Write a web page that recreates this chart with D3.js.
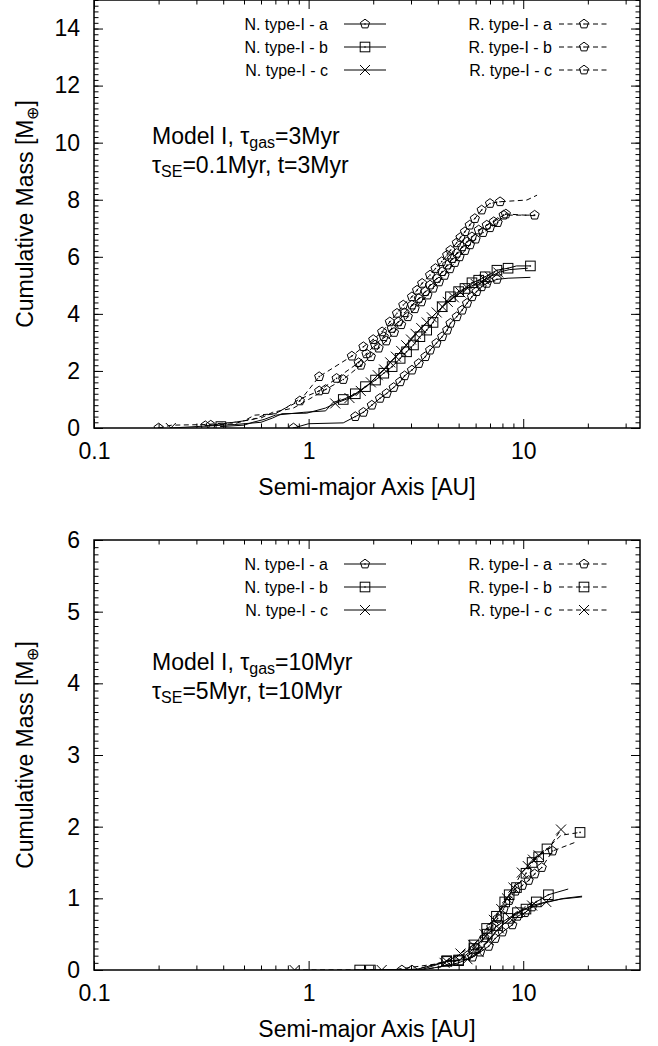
<!DOCTYPE html>
<html><head><meta charset="utf-8">
<script src="https://cdn.jsdelivr.net/npm/d3@7"></script>
<style>
body{margin:0;background:#fff}
svg text{font-family:"Liberation Sans",Arial,Helvetica,sans-serif;fill:#000}
</style>
</head><body>
<svg id="c" width="658" height="1046"></svg>
<script>
// ---------- labels / ticks ----------
const xMajorTicks = [0.1, 1, 10];
const xMajorLabels = ["0.1", "1", "10"];
const xMinorTicks = [0.2,0.3,0.4,0.5,0.6,0.7,0.8,0.9,2,3,4,5,6,7,8,9,20,30];
const topYTicks = [0,2,4,6,8,10,12,14];
const botYTicks = [0,1,2,3,4,5,6];
const xTitle = "Semi-major Axis [AU]";
const legendNames = ["N. type-I - a","N. type-I - b","N. type-I - c","R. type-I - a","R. type-I - b","R. type-I - c"];
const topNote = [["Model I, τ","gas","=3Myr"],["τ","SE","=0.1Myr, t=3Myr"]];
const botNote = [["Model I, τ","gas","=10Myr"],["τ","SE","=5Myr, t=10Myr"]];

// ---------- data: [semi-major axis AU, cumulative mass, marker shown 1/0] ----------
// top panel (tau_gas = 3 Myr)
const topNa = [[0.85,0,1],[1.0,0.15,0],[1.45,0.18,0],[1.65,0.40,1],[1.8,0.55,1],[1.97,0.8,1],[2.15,1.04,1],[2.31,1.21,1],[2.49,1.42,1],[2.67,1.62,1],[2.8,1.83,1],[3.03,2.03,1],[3.26,2.26,1],[3.5,2.5,1],[3.68,2.73,1],[3.94,2.97,1],[4.19,3.2,1],[4.42,3.43,1],[4.58,3.67,1],[4.9,3.9,1],[5.19,4.13,1],[5.47,4.37,1],[5.77,4.6,1],[6.06,4.78,1],[6.4,4.95,1],[6.76,5.07,1],[7.54,5.21,1],[8.5,5.25,0],[10.8,5.28,0]];
const topNb = [[0.39,0.05,1],[0.5,0.1,0],[0.55,0.2,0],[0.62,0.3,0],[0.7,0.45,0],[0.95,0.55,0],[1.2,0.6,0],[1.3,0.9,0],[1.45,1.0,1],[1.65,1.2,1],[1.84,1.45,1],[2.05,1.68,1],[2.24,1.92,1],[2.45,2.15,1],[2.67,2.44,1],[2.86,2.67,1],[3.08,2.91,1],[3.3,3.2,1],[3.55,3.43,1],[3.8,3.7,1],[4.19,4.25,1],[4.58,4.6,1],[5.0,4.78,1],[5.35,4.89,1],[5.77,5.09,1],[6.2,5.18,1],[6.65,5.3,1],[7.54,5.53,1],[8.5,5.6,1],[9.3,5.68,0],[10.8,5.68,1]];
const topNc = [[0.228,0,1],[0.3,0.05,0],[0.45,0.12,0],[0.6,0.2,0],[0.68,0.35,0],[0.75,0.5,0],[0.98,0.52,0],[1.2,0.7,0],[1.33,0.86,1],[1.55,1.05,1],[1.75,1.3,1],[1.95,1.6,1],[2.1,1.85,1],[2.25,2.05,1],[2.4,2.3,1],[2.55,2.5,1],[2.7,2.7,1],[2.85,2.9,1],[3.0,3.1,1],[3.15,3.3,1],[3.35,3.5,1],[3.55,3.7,1],[3.75,3.88,1],[3.95,4.05,1],[4.2,4.25,1],[4.45,4.42,1],[4.75,4.58,1],[5.1,4.75,1],[5.5,4.9,1],[6.0,5.05,1],[6.6,5.2,1],[7.0,5.3,1],[7.65,5.45,1],[8.6,5.55,0],[10.5,5.6,0]];
const topRa = [[0.2,0,1],[0.23,0.1,0],[0.33,0.12,0],[0.45,0.2,0],[0.55,0.3,0],[0.62,0.45,0],[0.7,0.5,0],[0.78,0.7,0],[0.91,0.95,1],[1.12,1.8,1],[1.59,2.52,1],[1.8,2.85,1],[2.0,3.1,1],[2.2,3.37,1],[2.39,3.72,1],[2.58,4.02,1],[2.76,4.31,1],[3.03,4.6,1],[3.2,4.83,1],[3.38,5.07,1],[3.68,5.36,1],[3.9,5.59,1],[4.17,5.83,1],[4.42,6.06,1],[4.58,6.23,1],[4.9,6.49,1],[5.1,6.68,1],[5.35,6.88,1],[5.63,7.11,1],[5.95,7.34,1],[6.4,7.64,1],[7.0,7.87,1],[7.8,7.93,1],[10.4,7.99,0],[11.6,8.16,0]];
const topRb = [[0.33,0.08,1],[0.4,0.15,0],[0.5,0.25,0],[0.56,0.45,0],[0.7,0.5,0],[0.8,0.75,0],[0.9,1.0,0],[1.12,1.3,1],[1.35,1.74,1],[1.71,2.29,1],[1.86,2.6,1],[2.04,2.91,1],[2.24,3.2,1],[2.44,3.49,1],[2.62,3.72,1],[2.8,4.04,1],[3.03,4.31,1],[3.26,4.54,1],[3.5,4.78,1],[3.68,5.01,1],[3.96,5.24,1],[4.19,5.48,1],[4.42,5.71,1],[4.66,5.94,1],[4.9,6.12,1],[5.19,6.35,1],[5.47,6.53,1],[5.77,6.7,1],[6.2,6.94,1],[6.76,7.11,1],[7.29,7.23,1],[8.1,7.46,1],[11.3,7.46,1]];
const topRc = [[0.35,0.1,1],[0.45,0.15,0],[0.53,0.3,0],[0.6,0.35,0],[0.68,0.55,0],[0.85,0.7,0],[1.0,1.0,0],[1.2,1.35,1],[1.45,1.7,1],[1.75,2.2,1],[1.95,2.5,1],[2.12,2.8,1],[2.3,3.05,1],[2.5,3.35,1],[2.7,3.62,1],[2.9,3.9,1],[3.12,4.18,1],[3.35,4.42,1],[3.58,4.66,1],[3.8,4.9,1],[4.05,5.12,1],[4.3,5.35,1],[4.55,5.58,1],[4.8,5.8,1],[5.05,6.0,1],[5.35,6.22,1],[5.65,6.42,1],[6.0,6.62,1],[6.5,6.85,1],[7.0,7.02,1],[7.6,7.2,1],[8.3,7.5,1],[11.3,7.44,0]];

// bottom panel (tau_gas = 10 Myr)
const botNa = [[2.72,0,1],[3.5,0.01,0],[4.2,0.05,0],[5.0,0.1,0],[5.8,0.18,1],[6.3,0.25,1],[6.9,0.33,1],[7.4,0.44,1],[8.0,0.53,1],[8.9,0.63,1],[9.4,0.75,1],[10.2,0.8,1],[11.0,0.88,1],[12.3,0.93,0],[15.0,0.99,0],[18.8,1.02,0]];
const botNb = [[1.73,0,1],[3.2,0.01,0],[4.4,0.12,1],[5.0,0.13,1],[5.9,0.3,1],[6.8,0.5,1],[7.6,0.62,1],[8.5,0.72,1],[9.4,0.8,1],[10.3,0.85,1],[11.5,0.95,1],[13.1,1.05,1],[16.2,1.13,0]];
const botNc = [[2.19,0,1],[3.4,0.01,0],[4.4,0.12,1],[5.5,0.15,1],[6.2,0.25,1],[6.9,0.42,1],[7.7,0.58,1],[8.7,0.72,1],[9.7,0.82,1],[11.0,0.9,1],[12.8,0.95,1],[15.5,1.0,0],[18.8,1.03,0]];
const botRa = [[3.03,0,1],[3.5,0.01,0],[4.2,0.05,0],[4.8,0.12,1],[5.5,0.2,1],[6.1,0.3,1],[6.6,0.45,1],[7.1,0.6,1],[7.6,0.72,1],[8.1,0.85,1],[8.6,0.97,1],[9.2,1.1,1],[9.9,1.18,1],[10.6,1.25,1],[11.3,1.34,1],[12.2,1.43,1],[13.7,1.66,1],[17.4,1.78,0]];
const botRb = [[1.94,0,1],[3.2,0.01,0],[4.4,0.13,1],[5.0,0.14,1],[5.9,0.35,1],[6.75,0.58,1],[7.5,0.75,1],[8.2,0.95,1],[8.6,1.05,1],[9.3,1.15,1],[10.3,1.35,1],[11.0,1.5,1],[11.8,1.58,1],[12.9,1.69,1],[15.0,1.88,0],[18.4,1.92,1]];
const botRc = [[0.86,0,1],[2.5,0.005,0],[4.3,0.1,1],[5.1,0.23,1],[5.85,0.35,1],[6.6,0.5,1],[7.3,0.7,1],[7.9,0.85,1],[8.4,1.0,1],[9.0,1.15,1],[9.85,1.36,1],[10.5,1.45,1],[11.1,1.54,1],[11.8,1.6,1],[13.0,1.68,0],[15.0,1.96,1]];

const topSeries = [
  {d: topNa, dash: false, sym: "pent"}, {d: topNb, dash: false, sym: "square"}, {d: topNc, dash: false, sym: "cross"},
  {d: topRa, dash: true, sym: "pent"}, {d: topRb, dash: true, sym: "pent"}, {d: topRc, dash: true, sym: "pent"}];
const botSeries = [
  {d: botNa, dash: false, sym: "pent"}, {d: botNb, dash: false, sym: "square"}, {d: botNc, dash: false, sym: "cross"},
  {d: botRa, dash: true, sym: "pent"}, {d: botRb, dash: true, sym: "square"}, {d: botRc, dash: true, sym: "cross"}];

// ---------- drawing ----------
const svg = d3.select("#c");
const FS = 23;
const SUB = 16;
const DASH = "5,3.5";

function marker(g, sym, cx, cy) {
  if (sym === "pent") {
    const r = 4.8;
    const pts = d3.range(5).map(i => {
      const a = -Math.PI/2 + i*2*Math.PI/5;
      return [cx + r*Math.cos(a), cy + r*Math.sin(a)];
    });
    g.append("path").attr("d", "M" + pts.join("L") + "Z")
      .attr("fill", "none").attr("stroke", "#000").attr("stroke-width", 1);
    g.append("circle").attr("cx", cx).attr("cy", cy).attr("r", 0.8).attr("fill", "#000");
  } else if (sym === "square") {
    const h = 4.8;
    g.append("rect").attr("x", cx-h).attr("y", cy-h).attr("width", 2*h).attr("height", 2*h)
      .attr("fill", "none").attr("stroke", "#000").attr("stroke-width", 1);
    g.append("circle").attr("cx", cx).attr("cy", cy).attr("r", 0.8).attr("fill", "#000");
  } else {
    const h = 5;
    g.append("path").attr("d", `M${cx-h},${cy-h}L${cx+h},${cy+h}M${cx-h},${cy+h}L${cx+h},${cy-h}`)
      .attr("stroke", "#000").attr("stroke-width", 1).attr("fill", "none");
  }
}

function drawPanel(cfg) {
  const x = d3.scaleLog().domain([0.1, 35]).range([94, 640]);
  const y = d3.scaleLinear().domain(cfg.ydom).range([cfg.y0, cfg.y1]);
  const g = svg.append("g");

  const cid = "clip" + cfg.id;
  svg.append("clipPath").attr("id", cid).append("rect")
    .attr("x", 94).attr("y", cfg.y1).attr("width", 546).attr("height", cfg.y0 - cfg.y1);

  // axes (ticks inward, mirrored)
  const ax = (gen) => gen.tickSizeOuter(0);
  const bot = g.append("g").attr("transform", `translate(0,${cfg.y0})`);
  bot.call(ax(d3.axisBottom(x).tickValues(xMajorTicks).tickSizeInner(-9).tickPadding(15)
    .tickFormat((d, i) => xMajorLabels[i])));
  bot.append("g").call(ax(d3.axisBottom(x).tickValues(xMinorTicks).tickSizeInner(-4.5).tickFormat("")));
  const topA = g.append("g").attr("transform", `translate(0,${cfg.y1})`);
  topA.call(ax(d3.axisTop(x).tickValues(xMajorTicks).tickSizeInner(-9).tickFormat("")));
  topA.append("g").call(ax(d3.axisTop(x).tickValues(xMinorTicks).tickSizeInner(-4.5).tickFormat("")));

  const left = g.append("g").attr("transform", "translate(94,0)");
  left.call(ax(d3.axisLeft(y).tickValues(cfg.yticks).tickSizeInner(-9).tickPadding(14).tickFormat(d3.format("d"))));
  left.append("g").call(ax(d3.axisLeft(y).tickValues(cfg.yminor).tickSizeInner(-4.5).tickFormat("")));
  const right = g.append("g").attr("transform", "translate(640,0)");
  right.call(ax(d3.axisRight(y).tickValues(cfg.yticks).tickSizeInner(-9).tickFormat("")));
  right.append("g").call(ax(d3.axisRight(y).tickValues(cfg.yminor).tickSizeInner(-4.5).tickFormat("")));

  g.selectAll(".domain").remove();
  g.selectAll(".tick line").attr("stroke", "#000").attr("stroke-width", 1);
  g.selectAll(".tick text").attr("font-size", FS).attr("font-family", '"Liberation Sans",Arial,sans-serif').attr("fill", "#000");

  // frame
  g.append("rect").attr("x", 94).attr("y", cfg.y1).attr("width", 546).attr("height", cfg.y0 - cfg.y1)
    .attr("fill", "none").attr("stroke", "#000").attr("stroke-width", 1.5);

  // axis titles
  g.append("text").attr("x", 367).attr("y", cfg.y0 + 67).attr("text-anchor", "middle")
    .attr("font-size", FS).text(xTitle);
  const yl = g.append("text").attr("transform", `translate(33,${cfg.ylabY}) rotate(-90)`)
    .attr("text-anchor", "middle").attr("font-size", FS);
  yl.append("tspan").text("Cumulative Mass [M");
  yl.append("tspan").attr("font-size", SUB).attr("dy", 5).text("⊕");
  yl.append("tspan").attr("dy", -5).text("]");

  // annotation (two lines)
  cfg.note.forEach((parts, i) => {
    const t = g.append("text").attr("x", 152).attr("y", cfg.noteY + i*29).attr("font-size", FS);
    t.append("tspan").text(parts[0]);
    t.append("tspan").attr("font-size", SUB).attr("dy", 4).text(parts[1]);
    t.append("tspan").attr("dy", -4).text(parts[2]);
  });

  // series
  const line = d3.line().x(d => x(d[0])).y(d => y(d[1]));
  const dg = g.append("g").attr("clip-path", `url(#${cid})`);
  cfg.series.forEach(s => {
    dg.append("path").attr("d", line(s.d)).attr("fill", "none").attr("stroke", "#000")
      .attr("stroke-width", 1).attr("stroke-dasharray", s.dash ? DASH : null);
  });
  cfg.series.forEach(s => {
    s.d.filter(p => p[2] === 1).forEach(p => marker(dg, s.sym, x(p[0]), y(p[1])));
  });

  // legend
  cfg.series.forEach((s, i) => {
    const col = i < 3 ? 0 : 1;
    const row = i % 3;
    const ty = cfg.y1 + 24 + row*23;
    const tx = col === 0 ? 328 : 552;
    g.append("text").attr("x", tx).attr("y", ty).attr("dy", "0.35em").attr("text-anchor", "end")
      .attr("font-size", 16).text(legendNames[i]);
    const lx0 = col === 0 ? 344 : 559, lx1 = col === 0 ? 386 : 609;
    g.append("line").attr("x1", lx0).attr("x2", lx1).attr("y1", ty).attr("y2", ty)
      .attr("stroke", "#000").attr("stroke-width", 1).attr("stroke-dasharray", s.dash ? DASH : null);
    marker(g, s.sym, (lx0 + lx1) / 2, ty);
  });
}

const minorTop = d3.range(0, 15.001, 0.2).map(v => +v.toFixed(1));
const minorBot = d3.range(0, 6.001, 0.1).map(v => +v.toFixed(1));

drawPanel({id: "t", ydom: [0, 15], y0: 428, y1: 0, yticks: topYTicks, yminor: minorTop,
  series: topSeries, note: topNote, noteY: 144, ylabY: 214});
drawPanel({id: "b", ydom: [0, 6], y0: 970, y1: 540, yticks: botYTicks, yminor: minorBot,
  series: botSeries, note: botNote, noteY: 670, ylabY: 755});
</script>
</body></html>
